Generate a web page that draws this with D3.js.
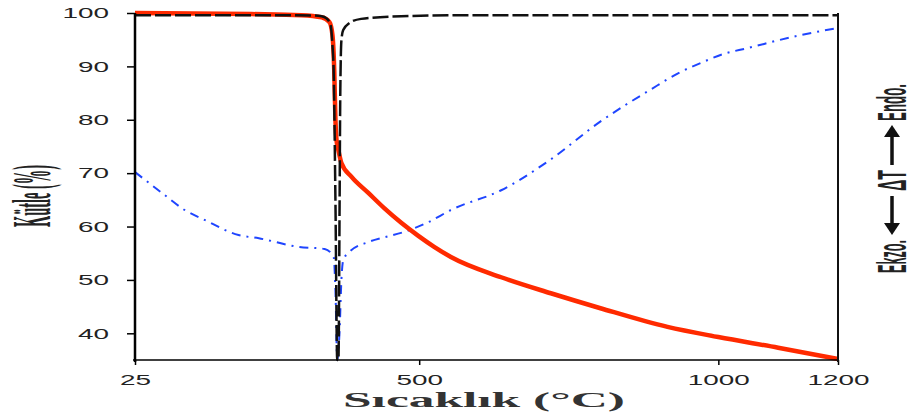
<!DOCTYPE html>
<html>
<head>
<meta charset="utf-8">
<script src="https://cdn.jsdelivr.net/npm/d3@7"></script>
<style>
  body { margin: 0; background: #fff; }
  svg { display: block; }
</style>
</head>
<body>
<svg width="916" height="417"></svg>
<script>
// tick labels
const xTicks = [25, 500, 1000, 1200]
const yTicks = [40, 50, 60, 70, 80, 90, 100]

// TGA (mass %) - red
const tgaT = [25, 220, 303, 337, 350, 355, 358, 360, 362, 365, 370, 387, 415, 442, 470, 498, 525, 553, 637, 720, 803, 915, 1000, 1100, 1200]
const tgaV = [100, 99.8, 99.6, 99.2, 98.3, 95.9, 89.3, 80, 76, 74.3, 71.9, 69.3, 66.3, 63.4, 60.7, 58.3, 56.2, 54.3, 50.5, 47.5, 44.7, 41.2, 39.3, 37.3, 35.2]

// DTA - black dashed (drawn on the same vertical scale)
const dtaT = [25, 200, 320, 337, 345, 352, 355, 357, 360, 363, 365, 367, 368, 370, 373, 383, 403, 470, 600, 800, 1000, 1200]
const dtaV = [99.6, 99.6, 99.55, 99.4, 99.0, 97.7, 94.0, 89.3, 65.0, 35.0, 35.0, 65.0, 83.7, 94.9, 96.8, 98.1, 98.9, 99.4, 99.6, 99.6, 99.6, 99.6]

// DTG - blue dash-dot
const dtgT = [25, 70, 108, 142, 198, 232, 298, 342, 357, 360, 363, 367, 370, 373, 383, 415, 442, 475, 515, 553, 637, 719, 802, 886, 936, 974, 1008, 1048, 1131, 1200]
const dtgV = [70.2, 66.3, 63.1, 61.2, 58.4, 57.8, 56.2, 55.8, 54.3, 48.1, 35.0, 40.6, 50.0, 53.7, 55.2, 57.1, 58.0, 59.0, 60.8, 63.1, 66.8, 72.5, 79.6, 85.6, 88.9, 90.8, 92.3, 93.4, 95.7, 97.2]

const svg = d3.select("svg")
const x = d3.scaleLinear().domain([25, 1200]).range([135, 838])
const y = d3.scaleLinear().domain([35, 100]).range([360, 13])

const line = d3.line()
    .x(d => x(d[0]))
    .y(d => y(d[1]))
    .curve(d3.curveMonotoneX)

const zip = (a, b) => a.map((t, i) => [t, b[i]])

// curves
svg.append("path")
    .attr("d", line(zip(dtgT, dtgV)))
    .attr("fill", "none")
    .attr("stroke", "#1f45ff")
    .attr("stroke-width", 2)
    .attr("stroke-dasharray", "9,6,2,6")

svg.append("path")
    .attr("d", line(zip(tgaT, tgaV)))
    .attr("fill", "none")
    .attr("stroke", "#ff2a00")
    .attr("stroke-width", 4.5)

svg.append("path")
    .attr("d", line(zip(dtaT, dtaV)))
    .attr("fill", "none")
    .attr("stroke", "#111")
    .attr("stroke-width", 2.5)
    .attr("stroke-dasharray", "16,4")

// axes
const digitW = 15.5
const fmt = d3.format("d")
const yAxis = svg.append("g")
    .attr("transform", "translate(135,0)")
    .call(d3.axisLeft(y).tickValues(yTicks).tickFormat(fmt).tickSize(8).tickPadding(18))
yAxis.select(".domain").attr("stroke-width", 2.5).attr("d", "M0,13V362")
yAxis.selectAll(".tick line").attr("stroke-width", 1.5)
yAxis.selectAll("text")
    .attr("font-family", "Liberation Sans, Arial, sans-serif")
    .attr("font-size", 15)
    .attr("fill", "#222")
    .attr("textLength", d => fmt(d).length * digitW)
    .attr("lengthAdjust", "spacingAndGlyphs")

const xAxis = svg.append("g")
    .attr("transform", "translate(0,360)")
    .call(d3.axisBottom(x).tickValues(xTicks).tickFormat(fmt).tickSize(5).tickPadding(9))
xAxis.select(".domain").attr("stroke-width", 1.5).attr("d", "M133,0H839")
xAxis.selectAll(".tick line").attr("stroke-width", 1.5)
xAxis.selectAll("text")
    .attr("font-family", "Liberation Sans, Arial, sans-serif")
    .attr("font-size", 15)
    .attr("fill", "#222")
    .attr("textLength", d => fmt(d).length * digitW)
    .attr("lengthAdjust", "spacingAndGlyphs")

// right frame
svg.append("line")
    .attr("x1", 838).attr("x2", 838)
    .attr("y1", 13).attr("y2", 362)
    .attr("stroke", "#111").attr("stroke-width", 2)

// axis titles
svg.append("text")
    .attr("x", 343).attr("y", 407)
    .attr("font-family", "Liberation Serif, serif")
    .attr("font-weight", "bold")
    .attr("font-size", 21)
    .attr("fill", "#333")
    .attr("textLength", 282)
    .attr("lengthAdjust", "spacingAndGlyphs")
    .text("Sıcaklık (°C)")

// condensed vertical labels: squeeze to a given length
function vlabel(tx, ty, size, len, family, txt) {
    const t = svg.append("text")
        .attr("font-family", family)
        .attr("font-weight", "bold")
        .attr("font-size", size)
        .attr("fill", "#222")
        .text(txt)
    const w = t.node().getComputedTextLength()
    t.attr("transform", "translate(" + tx + "," + ty + ") rotate(-90) scale(" + (len / w) + ",1)")
}

vlabel(50, 227, 54, 62, "Liberation Serif, serif", "Kütle (%)")

// right side: Ekzo. <-- ΔT --> Endo.
const rf = "Liberation Sans Narrow, Liberation Sans, sans-serif"
vlabel(906, 273, 40, 33, rf, "Ekzo.")
vlabel(906, 191, 40, 21, rf, "ΔT")
vlabel(906, 121, 40, 37, rf, "Endo.")

function arrow(y0, y1) {
    const dir = Math.sign(y1 - y0)
    svg.append("line")
        .attr("x1", 892).attr("x2", 892)
        .attr("y1", y0).attr("y2", y1 - dir * 10)
        .attr("stroke", "#111").attr("stroke-width", 3.5)
    svg.append("path")
        .attr("d", "M884," + (y1 - dir * 12) + "L900," + (y1 - dir * 12) + "L892," + y1 + "Z")
        .attr("fill", "#111")
}
arrow(196, 235)
arrow(165, 125)
</script>
</body>
</html>
